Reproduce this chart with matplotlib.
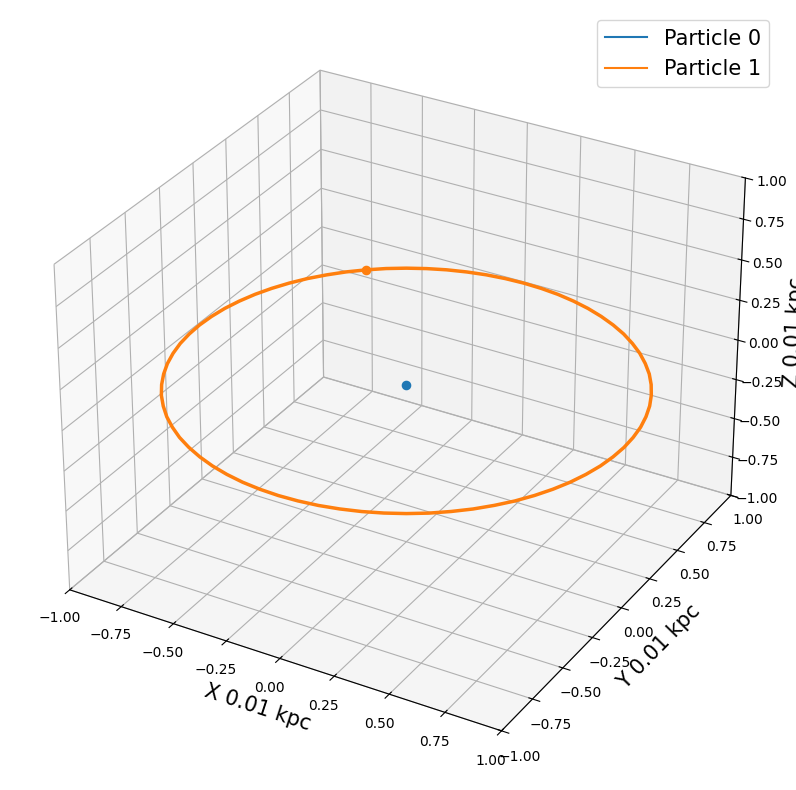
import matplotlib.pyplot as plt

# orbit of particle 1 (units of 0.01 kpc)
x1 = [-0.636, -0.700, -0.758, -0.811, -0.857, -0.897, -0.930, -0.956, -0.975, -0.986,
      -0.990, -0.986, -0.975, -0.956, -0.930, -0.897, -0.857, -0.811, -0.758, -0.700,
      -0.636, -0.568, -0.495, -0.418, -0.339, -0.256, -0.172, -0.086, 0.0, 0.086,
      0.172, 0.256, 0.339, 0.418, 0.495, 0.568, 0.636, 0.700, 0.758, 0.811,
      0.857, 0.897, 0.930, 0.956, 0.975, 0.986, 0.990, 0.986, 0.975, 0.956,
      0.930, 0.897, 0.857, 0.811, 0.758, 0.700, 0.636, 0.568, 0.495, 0.418,
      0.339, 0.256, 0.172, 0.086, 0.0, -0.086, -0.172, -0.256, -0.339, -0.418,
      -0.495, -0.568, -0.636]
y1 = [0.758, 0.700, 0.636, 0.568, 0.495, 0.418, 0.339, 0.256, 0.172, 0.086,
      0.0, -0.086, -0.172, -0.256, -0.339, -0.418, -0.495, -0.568, -0.636, -0.700,
      -0.758, -0.811, -0.857, -0.897, -0.930, -0.956, -0.975, -0.986, -0.990, -0.986,
      -0.975, -0.956, -0.930, -0.897, -0.857, -0.811, -0.758, -0.700, -0.636, -0.568,
      -0.495, -0.418, -0.339, -0.256, -0.172, -0.086, 0.0, 0.086, 0.172, 0.256,
      0.339, 0.418, 0.495, 0.568, 0.636, 0.700, 0.758, 0.811, 0.857, 0.897,
      0.930, 0.956, 0.975, 0.986, 0.990, 0.986, 0.975, 0.956, 0.930, 0.897,
      0.857, 0.811, 0.758]
z1 = [0.0] * len(x1)

# particle 0 sits at the centre
x0 = [0.0]
y0 = [0.0]
z0 = [0.0]

fig = plt.figure(figsize=(7.96, 7.90), dpi=100)
ax = fig.add_axes([0.011, 0.0135, 0.973, 0.973], projection='3d')

ax.plot(x0, y0, z0, label='Particle 0', linewidth=2)
ax.plot(x1, y1, z1, label='Particle 1', linewidth=2.5)
ax.scatter(x0[-1], y0[-1], z0[-1], color='C0', s=35, alpha=1)
ax.scatter(x1[-1], y1[-1], z1[-1], color='C1', s=35, alpha=1)

ax.set_xlim(-1, 1)
ax.set_ylim(-1, 1)
ax.set_zlim(-1, 1)
ax.set_xlabel('X 0.01 kpc', fontsize=15)
ax.set_ylabel('Y 0.01 kpc', fontsize=15)
ax.set_zlabel('Z 0.01 kpc', fontsize=15)

leg = ax.legend(fontsize=15, loc='upper right', bbox_to_anchor=(0.999, 1.001))
for h in leg.get_lines():
    h.set_linewidth(1.5)

plt.savefig('out.png')
